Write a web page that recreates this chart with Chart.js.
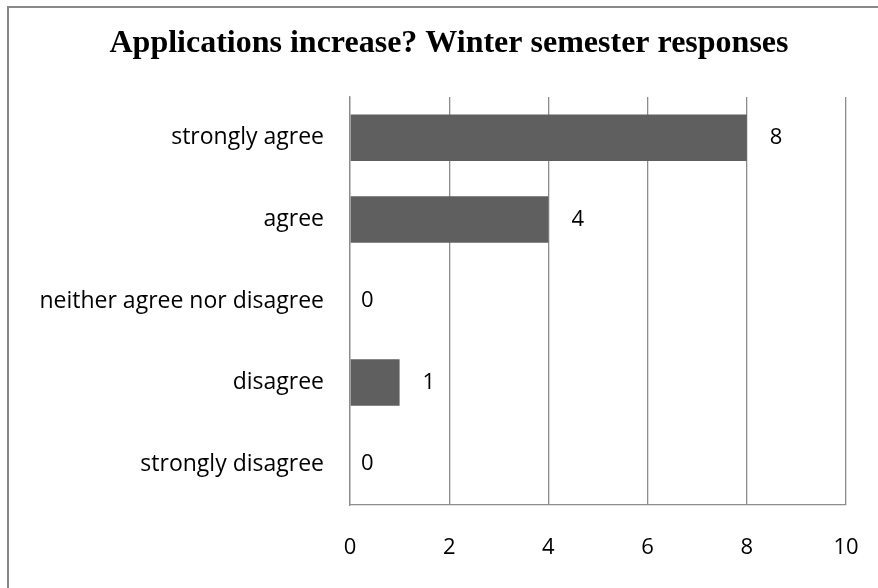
<!DOCTYPE html>
<html>
<head>
<meta charset="utf-8">
<script src="https://cdn.jsdelivr.net/npm/chart.js@4.4.1/dist/chart.umd.min.js"></script>
<style>
    html, body { margin: 0; padding: 0; background: #fff; }
    #wrap { position: relative; width: 878px; height: 588px; overflow: hidden; }
    #frame { position: absolute; left: 7px; top: 6px; width: 900px; height: 600px;
             border-left: 2px solid #888; border-top: 2px solid #888; box-sizing: border-box; }
    canvas { position: absolute; left: 0; top: 0; }
</style>
</head>
<body>
<div id="wrap">
    <div id="frame"></div>
    <canvas id="chart" width="878" height="588"></canvas>
</div>
<script>
// chart data
const categories = ['strongly agree', 'agree', 'neither agree nor disagree', 'disagree', 'strongly disagree'];
const responses = [8, 4, 0, 1, 0];
const xTickValues = [0, 2, 4, 6, 8, 10];
const chartTitle = 'Applications increase? Winter semester responses';

const labelFont = '"Open Sans", "Liberation Sans", sans-serif';

// title is drawn by hand: in the original it is centred on the whole frame, not the canvas
const titlePlugin = {
    id: 'frameTitle',
    afterDraw(chart) {
        const ctx = chart.ctx;
        ctx.save();
        ctx.font = 'bold 32px "Liberation Serif", "Times New Roman", serif';
        ctx.fillStyle = '#000';
        ctx.textAlign = 'center';
        ctx.textBaseline = 'middle';
        ctx.fillText(chartTitle, 449, 44);
        ctx.restore();
    }
};

// draws the value next to the end of each bar
const valueLabels = {
    id: 'valueLabels',
    afterDatasetsDraw(chart) {
        const ctx = chart.ctx;
        const meta = chart.getDatasetMeta(0);
        ctx.save();
        ctx.font = '22px ' + labelFont;
        ctx.fillStyle = '#000';
        ctx.textAlign = 'left';
        ctx.textBaseline = 'middle';
        meta.data.forEach((bar, i) => {
            const gap = responses[i] > 0 ? 23 : 11;
            ctx.fillText(String(responses[i]), bar.x + gap, bar.y);
        });
        ctx.restore();
    }
};

new Chart(document.getElementById('chart').getContext('2d'), {
    type: 'bar',
    data: {
        labels: categories,
        datasets: [{
            data: responses,
            backgroundColor: '#5f5f5f',
            borderWidth: 0,
            categoryPercentage: 1,
            barPercentage: 0.57
        }]
    },
    options: {
        indexAxis: 'y',
        responsive: false,
        animation: false,
        layout: { padding: { left: 0, right: 32, top: 97, bottom: 0 } },
        plugins: {
            legend: { display: false },
            tooltip: { enabled: false },
            title: { display: false }
        },
        scales: {
            x: {
                min: 0,
                max: 10,
                afterBuildTicks: scale => { scale.ticks = xTickValues.map(v => ({ value: v })); },
                afterFit: scale => {
                    scale.height = 83;
                    scale.paddingLeft = 0;
                    scale.paddingRight = 0;
                },
                grid: { color: '#8c8c8c', lineWidth: 1.3, drawTicks: false },
                border: { display: true, color: '#8c8c8c', width: 1.3 },
                ticks: { color: '#000', font: { family: labelFont, size: 22 }, padding: 30 }
            },
            y: {
                afterFit: scale => { scale.width = 350; },
                grid: { display: false, drawTicks: false },
                border: { display: true, color: '#8c8c8c', width: 1.3 },
                ticks: { color: '#000', font: { family: labelFont, size: 23 }, padding: 26 }
            }
        }
    },
    plugins: [valueLabels, titlePlugin]
});
</script>
</body>
</html>
